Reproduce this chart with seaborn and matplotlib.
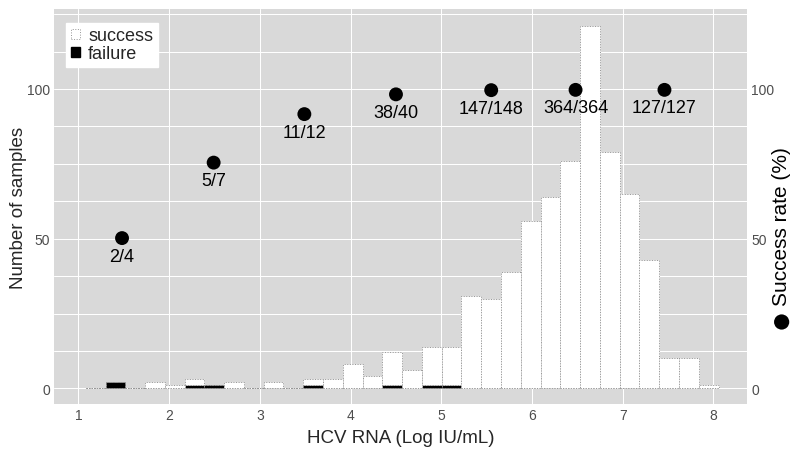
"""
HCV RNA histogram (success / failure) with success rate per log bin.
"""

import numpy as np
import pandas as pd
import matplotlib
matplotlib.use("Agg")
import matplotlib.pyplot as plt
from matplotlib.patches import Patch
from matplotlib.ticker import MultipleLocator
import seaborn as sns

# ------------------------------------------------------------
# data
# ------------------------------------------------------------
# histogram bins (log IU/mL), 32 bins
bin_start = 1.08
bin_width = 0.218
success_counts = [0, 0, 0, 2, 1, 2, 0, 2, 0, 2, 0, 2, 3, 8, 4, 11,
                  6, 13, 13, 31, 30, 39, 56, 64, 76, 121, 79, 65, 43, 10, 10, 1]
failure_counts = [0, 2, 0, 0, 0, 1, 1, 0, 0, 0, 0, 1, 0, 0, 0, 1,
                  0, 1, 1, 0, 0, 0, 0, 0, 0, 0, 0, 0, 0, 0, 0, 0]

# success rate per 1-log interval
rate_x = [1.48, 2.49, 3.49, 4.50, 5.55, 6.48, 7.46]
rate_pct = [50.2, 75.4, 91.6, 98.2, 99.6, 99.7, 99.7]
rate_labels = ["2/4", "5/7", "11/12", "38/40", "147/148", "364/364", "127/127"]

# ------------------------------------------------------------
# build long table for seaborn
# ------------------------------------------------------------
n_bins = len(success_counts)
bin_end = bin_start + bin_width * n_bins
centers = bin_start + bin_width * (np.arange(n_bins) + 0.5)

hist_df = pd.DataFrame({
    "rna": np.concatenate([centers, centers]),
    "count": success_counts + failure_counts,
    "outcome": ["success"] * n_bins + ["failure"] * n_bins,
})
rate_df = pd.DataFrame({"rna": rate_x, "rate": rate_pct, "label": rate_labels})

# ------------------------------------------------------------
# plot
# ------------------------------------------------------------
sns.set_theme(style="darkgrid", rc={
    "axes.facecolor": "#d9d9d9",
    "grid.color": "white",
    "grid.linewidth": 0.75,
})
plt.rcParams["font.family"] = ["Liberation Sans", "DejaVu Sans"]

fig, ax = plt.subplots(figsize=(8, 4.56), dpi=100)
fig.subplots_adjust(left=54 / 800, right=747 / 800, top=1 - 10 / 456, bottom=1 - 405 / 456)

sns.histplot(data=hist_df, x="rna", weights="count", hue="outcome",
             hue_order=["success", "failure"], multiple="stack",
             binwidth=bin_width, binrange=(bin_start, bin_end),
             palette={"success": "white", "failure": "black"}, alpha=1,
             edgecolor="#959595", linewidth=0.7, linestyle=":", legend=False, ax=ax)

ax.set_xlim(0.73, 8.37)
ax.set_ylim(-5.2, 126.7)
ax.set_xticks(range(1, 9))
ax.set_yticks([0, 50, 100])
ax.yaxis.set_minor_locator(MultipleLocator(12.5))
ax.grid(True, which="both", axis="y", color="white", linewidth=0.75)
ax.grid(True, which="major", axis="x", color="white", linewidth=0.75)
ax.set_xlabel("HCV RNA (Log IU/mL)", fontsize=13.5, labelpad=5)
ax.set_ylabel("Number of samples", fontsize=13.5, labelpad=0)
ax.tick_params(axis="both", which="both", length=0, labelsize=10, labelcolor="#4d4d4d", pad=3)
for s in ax.spines.values():
    s.set_visible(False)

# legend inside panel, top left
handles = [Patch(facecolor="white", edgecolor="#959595", linestyle=":", linewidth=0.7, label="success"),
           Patch(facecolor="black", edgecolor="black", label="failure")]
leg = ax.legend(handles=handles, loc="upper left", bbox_to_anchor=(0.018, 0.965),
                fontsize=13, frameon=True, fancybox=False, framealpha=1,
                handlelength=0.5, handleheight=0.5, handletextpad=0.45,
                labelspacing=0.05, borderpad=0.25, borderaxespad=0)
leg.get_frame().set_facecolor("white")
leg.get_frame().set_edgecolor("white")

# success rate on right axis
ax2 = ax.twinx()
sns.scatterplot(data=rate_df, x="rna", y="rate", color="black", s=100,
                edgecolor="none", legend=False, ax=ax2)
for x, y, lab in zip(rate_x, rate_pct, rate_labels):
    ax2.annotate(lab, (x, y), xytext=(0, -18), textcoords="offset pixels",
                 ha="center", va="center", fontsize=13, color="black")
ax2.set_ylim(ax.get_ylim())
ax2.set_yticks([0, 50, 100])
ax2.grid(False)
ax2.set_ylabel("")
ax2.tick_params(axis="y", length=0, labelsize=10, labelcolor="#4d4d4d", pad=3)
for s in ax2.spines.values():
    s.set_visible(False)

# right axis title with dot key
ax2.text(1.050, 0.452, "Success rate (%)", transform=ax2.transAxes, rotation=90,
         ha="center", va="center", fontsize=15, color="black")
ax2.scatter([1.050], [0.2076], transform=ax2.transAxes, s=120, color="black",
            edgecolor="none", clip_on=False)

fig.savefig("out.png", dpi=100)
plt.close(fig)
